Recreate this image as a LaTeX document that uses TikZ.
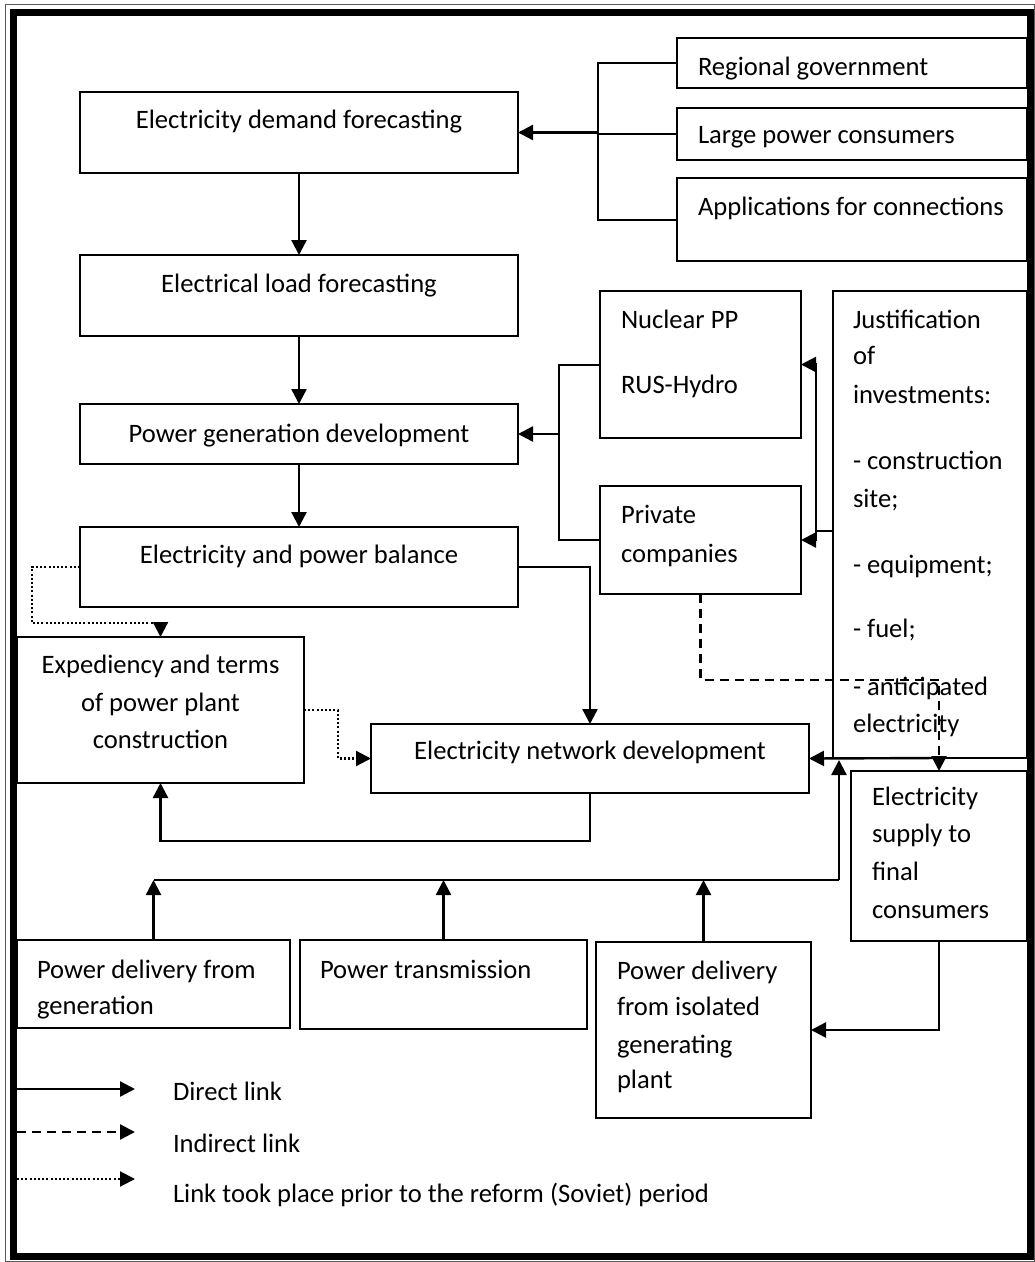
\documentclass[tikz,border=0pt]{standalone}
\usepackage{fontspec}
\setmainfont{Carlito}
\usetikzlibrary{arrows.meta,calc}
\newcommand\mybox[5]{\node[box, minimum width={(#4)-(#2)}, minimum height={(#5)-(#3)}] (#1) at ({((#2)+(#4))/2},{((#3)+(#5))/2}) {};}
\begin{document}
\begin{tikzpicture}[x=1pt,y=-1pt,
  box/.style={draw, line width=1.6pt, inner sep=0pt, outer sep=0pt},
  txt/.style={inner sep=0pt, outer sep=0pt, font=\fontsize{26.6}{31}\selectfont},
  tl/.style={txt, anchor=base west},
  tc/.style={txt, anchor=base},
  tip/.style={-{Triangle[length=15pt,width=15pt]}},
  arr/.style={line width=2.4pt, tip},
  bus/.style={line width=2pt},
  conn/.style={line width=2.4pt},
  dsh/.style={line width=2.4pt, dash pattern=on 9pt off 6pt, tip},
  dtt/.style={line width=2.2pt, dash pattern=on 2pt off 2.2pt, tip},
]
\useasboundingbox (0,0) rectangle (1035,1262);
% page border
\draw[line width=1pt, black!65] (5,4.5) rectangle (1034.5,1261.5);
\draw[line width=7pt] (13,12.5) rectangle (1030,1256);

% boxes
\mybox{dem}{80}{92}{518}{173}
\mybox{load}{80}{255}{518}{336}
\mybox{pgd}{80}{404}{518}{464}
\mybox{bal}{80}{527}{518}{607}
\mybox{exp}{17}{637}{304}{783}
\mybox{net}{371}{724}{809}{793}
\mybox{reg}{677}{38}{1027}{88}
\mybox{lrg}{677}{108}{1027}{160}
\mybox{app}{677}{178}{1027}{261}
\mybox{nuc}{600}{291}{801}{438}
\mybox{priv}{600}{486}{801}{594}
\mybox{just}{833}{291}{1027}{758}
\mybox{sup}{851}{771}{1027}{941}
\mybox{gen}{17}{940}{290}{1028}
\mybox{trn}{300}{940}{587}{1029}
\mybox{iso}{596}{942}{811}{1118}

% texts
\node[tc] (t-dem) at (299,128) {Electricity demand forecasting};
\node[tc] (t-load) at (299,292) {Electrical load forecasting};
\node[tc] (t-pgd) at (299,442) {Power generation development};
\node[tc] (t-bal) at (299,563) {Electricity and power balance};
\node[tc] (t-exp1) at (160.5,673) {Expediency and terms};
\node[tc] (t-exp2) at (160.5,711) {of power plant};
\node[tc] (t-exp3) at (160.5,748) {construction};
\node[tc] (t-net) at (590,759) {Electricity network development};
\node[tl] (t-reg) at (698,75) {Regional government};
\node[tl] (t-lrg) at (698,143) {Large power consumers};
\node[tl] (t-app) at (698,215) {Applications for connections};
\node[tl] (t-nuc1) at (621,328) {Nuclear PP};
\node[tl] (t-nuc2) at (621,393) {RUS-Hydro};
\node[tl] (t-priv1) at (621,523) {Private};
\node[tl] (t-priv2) at (621,562) {companies};
\node[tl] (t-j1) at (853,328) {Justification};
\node[tl] (t-j2) at (853,364) {of};
\node[tl] (t-j3) at (853,403) {investments:};
\node[tl] (t-j4) at (853,469) {- construction};
\node[tl] (t-j5) at (853,507) {site;};
\node[tl] (t-j6) at (853,573) {- equipment;};
\node[tl] (t-j7) at (853,637) {- fuel;};
\node[tl] (t-j8) at (853,695) {- anticipated};
\node[tl] (t-j9) at (853,732) {electricity};
\node[tl] (t-sup1) at (872,805) {Electricity};
\node[tl] (t-sup2) at (872,842) {supply to};
\node[tl] (t-sup3) at (872,880) {final};
\node[tl] (t-sup4) at (872,918) {consumers};
\node[tl] (t-gen1) at (37,978) {Power delivery from};
\node[tl] (t-gen2) at (37,1014) {generation};
\node[tl] (t-trn) at (320,978) {Power transmission};
\node[tl] (t-iso1) at (617,979) {Power delivery};
\node[tl] (t-iso2) at (617,1015) {from isolated};
\node[tl] (t-iso3) at (617,1053) {generating};
\node[tl] (t-iso4) at (617,1088) {plant};

% vertical chain
\draw[arr] (dem.south) -- (load.north);
\draw[arr] (load.south) -- (pgd.north);
\draw[arr] (pgd.south) -- (bal.north);

% top bus
\coordinate (bx) at (598,134);
\draw[bus] (reg.west) -| (bx) |- (app.west);
\draw[bus] (lrg.west) -- (lrg.west -| bx);
\draw[arr] (bx |- dem.east) -- (dem.east);

% middle bus
\coordinate (by) at (559,434);
\draw[bus] (nuc.west) -| (by) |- (priv.west);
\draw[arr] (by |- pgd.east) -- (pgd.east);

% justification bus
\coordinate (jx) at (816,531);
\draw[conn] (just.west |- jx) -- (jx);
\draw[arr] (jx) |- (nuc.east);
\draw[arr] (jx) |- (priv.east);

% balance -> network
\draw[arr] (bal.east) -| (net.north);

% network -> expediency
\coordinate (nB) at (590,841);
\draw[arr] (net.south) -- (nB) -| (exp.south);

% dotted links
\coordinate (dA) at (32,623);
\draw[dtt] (bal.west) -| (dA) -- (dA -| exp.north) -- (exp.north);
\coordinate (dB) at (338,710);
\draw[dtt] (exp.east) -- (dB) |- (net.west);

% dashed link
\coordinate (dc) at (939,680);
\draw[dsh] (priv.south) |- (dc) -- (sup.north);

% justification -> network
\coordinate (js) at (939,758);
\draw[arr] (js) -- (net.east);

% bottom bus
\coordinate (bl) at (154,880);
\coordinate (br) at (839,880);
\coordinate (bt) at (839,760);
\draw[arr] (gen.north) -- (gen.north |- bl);
\draw[arr] (trn.north) -- (trn.north |- bl);
\draw[arr] (iso.north) -- (iso.north |- bl);
\draw[conn] (gen.north |- bl) -- (br);
\draw[arr] (br) -- (bt);

% supply -> isolated
\draw[arr] (sup.south) |- (iso.east);

% legend
\coordinate (la1) at (17,1089); \coordinate (lb1) at (135,1089);
\coordinate (la2) at (17,1132); \coordinate (lb2) at (135,1132);
\coordinate (la3) at (17,1179); \coordinate (lb3) at (135,1179);
\draw[arr] (la1) -- (lb1);
\draw[dsh] (la2) -- (lb2);
\draw[dtt] (la3) -- (lb3);
\node[tl] (t-l1) at (173,1100) {Direct link};
\node[tl] (t-l2) at (173,1152) {Indirect link};
\node[tl] (t-l3) at (173,1202) {Link took place prior to the reform (Soviet) period};
\end{tikzpicture}
\end{document}
